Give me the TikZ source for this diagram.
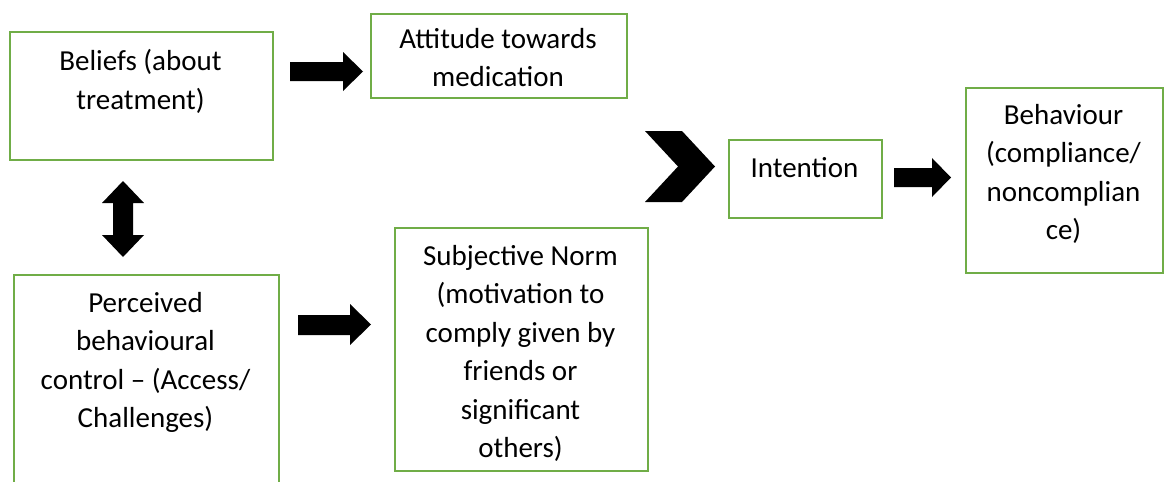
\documentclass[tikz,border=0pt]{standalone}
\usepackage{fontspec}
\setmainfont{Carlito}
\definecolor{boxgreen}{HTML}{70AD47}
\begin{document}
\begin{tikzpicture}[x=1pt,y=-1pt,
  box/.style={draw=boxgreen, line width=2.4pt, inner sep=0pt, anchor=north west},
  lbl/.style={inner sep=0pt, anchor=base, font=\fontsize{29}{38.5}\selectfont},
  blockarrow/.style={fill=black, draw=none}]
\useasboundingbox (0,0) rectangle (1165,482);
\clip (0,0) rectangle (1165,482);
% boxes
\node[box, minimum width=263pt, minimum height=128pt] (beliefs) at (9,31) {};
\node[box, minimum width=256pt, minimum height=84pt] (attitude) at (370,13) {};
\node[box, minimum width=153pt, minimum height=78pt] (intention) at (728,139) {};
\node[box, minimum width=197pt, minimum height=185pt] (behaviour) at (965,87) {};
\node[box, minimum width=265pt, minimum height=246pt] (perceived) at (13,274) {};
\node[box, minimum width=253pt, minimum height=243pt] (subjective) at (394,227) {};
% texts
\node[lbl] (beliefsT) at (140.5,70.5) {\parbox[t]{260pt}{\centering Beliefs (about\\treatment)}};
\node[lbl] (attitudeT) at (498,48) {\parbox[t]{255pt}{\centering Attitude towards\\medication}};
\node[lbl] (intentionT) at (804.5,177) {\parbox[t]{150pt}{\centering Intention}};
\node[lbl] (behaviourT) at (1063.5,124) {\parbox[t]{195pt}{\centering Behaviour\\(compliance/\\noncomplian\\ce)}};
\node[lbl] (perceivedT) at (145.5,312) {\parbox[t]{262pt}{\centering Perceived\\behavioural\\control -- (Access/\\Challenges)}};
\node[lbl] (subjectiveT) at (520.5,265) {\parbox[t]{250pt}{\centering Subjective Norm\\(motivation to\\comply given by\\friends or\\significant\\others)}};
% block arrows
\fill[blockarrow] (290,62) -- (343,62) -- (343,52) -- (363,71.5) -- (343,91) -- (343,81) -- (290,81) -- cycle;
\fill[blockarrow] (113,203) -- (102,203) -- (123,181) -- (144,203) -- (133,203) -- (133,235) -- (144,235) -- (123,257) -- (102,235) -- (113,235) -- cycle;
\fill[blockarrow] (298,315) -- (350,315) -- (350,304) -- (371,324.5) -- (350,345) -- (350,335) -- (298,335) -- cycle;
\fill[blockarrow] (645,131) -- (682,131) -- (715,166.5) -- (682,202) -- (645,202) -- (678,166.5) -- cycle;
\fill[blockarrow] (894,168) -- (932,168) -- (932,158) -- (951,177.5) -- (932,197) -- (932,187) -- (894,187) -- cycle;
\end{tikzpicture}
\end{document}
